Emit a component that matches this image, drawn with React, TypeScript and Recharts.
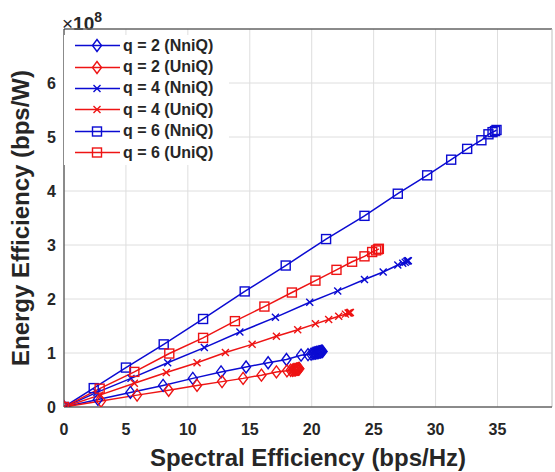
import React from 'react'
import { LineChart, Line, XAxis, YAxis, CartesianGrid, ReferenceLine, Legend } from 'recharts'

// spectral efficiency (bps/Hz) vs energy efficiency (x 1e8 bps/W)
const seQ2Nni = [0, 2.74, 5.36, 8.0, 10.4, 12.68, 14.7, 16.48, 17.96, 19.14, 19.7, 19.95, 20.1, 20.2, 20.3, 20.38, 20.45, 20.52, 20.58, 20.63, 20.68, 20.72, 20.76, 20.8, 20.84, 20.88]
const eeQ2Nni = [0, 0.14, 0.27, 0.40, 0.53, 0.65, 0.74, 0.82, 0.88, 0.96, 0.97, 0.98, 0.99, 1.0, 1.0, 1.01, 1.01, 1.01, 1.02, 1.02, 1.02, 1.02, 1.03, 1.03, 1.03, 1.03]

const seQ2Uni = [0, 2.99, 5.9, 8.45, 10.74, 12.76, 14.46, 15.94, 17.15, 18.0, 18.3, 18.45, 18.55, 18.63, 18.7, 18.76, 18.81, 18.85, 18.89, 18.92, 18.95, 18.98, 19.0]
const eeQ2Uni = [0, 0.11, 0.22, 0.31, 0.40, 0.47, 0.53, 0.59, 0.65, 0.67, 0.68, 0.68, 0.69, 0.69, 0.69, 0.70, 0.70, 0.70, 0.70, 0.70, 0.71, 0.71, 0.71]

const seQ4Nni = [0, 2.66, 5.41, 8.37, 11.33, 14.2, 17.07, 19.84, 22.1, 24.26, 25.77, 26.95, 27.35, 27.55, 27.68, 27.76, 27.8]
const eeQ4Nni = [0, 0.27, 0.53, 0.82, 1.10, 1.39, 1.66, 1.94, 2.15, 2.36, 2.50, 2.63, 2.66, 2.68, 2.70, 2.71, 2.71]

const seQ4Uni = [0, 2.88, 5.68, 8.26, 10.74, 13.03, 15.19, 17.15, 18.87, 20.3, 21.37, 22.18, 22.72, 22.94, 23.02, 23.08, 23.12]
const eeQ4Uni = [0, 0.22, 0.44, 0.64, 0.82, 1.01, 1.16, 1.31, 1.43, 1.54, 1.62, 1.68, 1.72, 1.74, 1.74, 1.75, 1.75]

const seQ6Nni = [0, 2.4, 5.0, 8.05, 11.23, 14.59, 17.9, 21.16, 24.26, 26.95, 29.32, 31.26, 32.55, 33.7, 34.27, 34.6, 34.8, 34.92]
const eeQ6Nni = [0, 0.35, 0.73, 1.16, 1.63, 2.14, 2.62, 3.11, 3.54, 3.95, 4.29, 4.58, 4.78, 4.94, 5.05, 5.09, 5.11, 5.13]

const seQ6Uni = [0, 2.88, 5.68, 8.5, 11.23, 13.8, 16.18, 18.4, 20.3, 22.0, 23.26, 24.26, 24.88, 25.2, 25.35, 25.42]
const eeQ6Uni = [0, 0.34, 0.65, 0.99, 1.28, 1.59, 1.86, 2.12, 2.34, 2.54, 2.69, 2.79, 2.87, 2.90, 2.92, 2.93]

const xTicks = [0, 5, 10, 15, 20, 25, 30, 35]
const yTicks = [0, 1, 2, 3, 4, 5, 6]
const X_MAX = 39.4
const Y_MAX = 7

const BLUE = '#0b0bd2'
const RED = '#ee1414'
const INK = '#262626'
const FONT = '"Liberation Sans", Arial, Helvetica, sans-serif'

type Shape = 'diamond' | 'cross' | 'square'

const toPoints = (xs: number[], ys: number[]) => xs.map((x, i) => ({ x, y: ys[i] }))

const series = [
  { name: 'q = 2 (NniQ)', color: BLUE, shape: 'diamond' as Shape, data: toPoints(seQ2Nni, eeQ2Nni) },
  { name: 'q = 2 (UniQ)', color: RED, shape: 'diamond' as Shape, data: toPoints(seQ2Uni, eeQ2Uni) },
  { name: 'q = 4 (NniQ)', color: BLUE, shape: 'cross' as Shape, data: toPoints(seQ4Nni, eeQ4Nni) },
  { name: 'q = 4 (UniQ)', color: RED, shape: 'cross' as Shape, data: toPoints(seQ4Uni, eeQ4Uni) },
  { name: 'q = 6 (NniQ)', color: BLUE, shape: 'square' as Shape, data: toPoints(seQ6Nni, eeQ6Nni) },
  { name: 'q = 6 (UniQ)', color: RED, shape: 'square' as Shape, data: toPoints(seQ6Uni, eeQ6Uni) },
]

const Marker = ({ cx, cy, shape, color }: { cx: number; cy: number; shape: Shape; color: string }) => {
  if (cx == null || cy == null) return null
  if (shape === 'diamond') {
    return <path d={`M${cx},${cy - 6} L${cx + 4.5},${cy} L${cx},${cy + 6} L${cx - 4.5},${cy} Z`} fill="none" stroke={color} strokeWidth={1.4} />
  }
  if (shape === 'square') {
    return <rect x={cx - 4.5} y={cy - 4.5} width={9} height={9} fill="none" stroke={color} strokeWidth={1.4} />
  }
  return (
    <path d={`M${cx - 3.5},${cy - 3.5} L${cx + 3.5},${cy + 3.5} M${cx - 3.5},${cy + 3.5} L${cx + 3.5},${cy - 3.5}`} stroke={color} strokeWidth={1.4} />
  )
}

const LegendBox = () => (
  <div style={{ background: '#fff', width: 160 }}>
    {series.map(s => (
      <div key={s.name} style={{ display: 'flex', alignItems: 'center', height: 21.4 }}>
        <svg width={58} height={21} style={{ flex: 'none' }}>
          <line x1={11} y1={10.5} x2={56} y2={10.5} stroke={s.color} strokeWidth={1.5} />
          <Marker cx={33} cy={10.5} shape={s.shape} color={s.color} />
        </svg>
        <span style={{ fontFamily: FONT, fontWeight: 'bold', fontSize: 16, color: INK, marginLeft: 1, whiteSpace: 'nowrap' }}>{s.name}</span>
      </div>
    ))}
  </div>
)

const YLabel = (props: any) => {
  const vb = props.viewBox || { x: 0, y: 29, width: 64, height: 378 }
  const x = vb.x + 29
  const y = vb.y + vb.height / 2
  return (
    <text x={x} y={y} transform={`rotate(-90 ${x} ${y})`} textAnchor="middle" fill={INK} fontFamily={FONT} fontWeight="bold" fontSize={24}>
      Energy Efficiency (bps/W)
    </text>
  )
}

const XLabel = (props: any) => {
  const vb = props.viewBox || { x: 64, y: 407, width: 488, height: 40 }
  const x = vb.x + vb.width / 2
  const y = vb.y + 59
  return (
    <text x={x} y={y} textAnchor="middle" fill={INK} fontFamily={FONT} fontWeight="bold" fontSize={24}>
      Spectral Efficiency (bps/Hz)
    </text>
  )
}

const tickStyle = { fill: INK, fontSize: 16, fontWeight: 'bold', fontFamily: FONT }

export default function App() {
  return (
    <div style={{ position: 'absolute', left: 0, top: 0, width: 555, height: 472, background: '#fff' }}>
      <div style={{ position: 'absolute', left: 62, top: 7, fontFamily: FONT, fontSize: 19, color: INK, lineHeight: '22px' }}>
        ×<b>10</b><sup style={{ fontSize: 14, position: 'relative', top: -1, fontWeight: 'bold' }}>8</sup>
      </div>
      <LineChart width={555} height={472} margin={{ top: 29, right: 3, bottom: 25, left: 0 }}>
        <CartesianGrid stroke="#dedede" strokeWidth={1} />
        <XAxis
          type="number"
          dataKey="x"
          domain={[0, X_MAX]}
          ticks={xTicks}
          allowDataOverflow
          height={40}
          tickLine={false}
          tickMargin={11}
          axisLine={{ stroke: INK }}
          tick={tickStyle}
          label={XLabel}
        />
        <YAxis
          type="number"
          domain={[0, Y_MAX]}
          ticks={yTicks}
          allowDataOverflow
          width={64}
          tickLine={false}
          tickMargin={2}
          axisLine={{ stroke: INK }}
          tick={tickStyle}
          label={YLabel}
        />
        <ReferenceLine y={Y_MAX} stroke={INK} />
        <ReferenceLine x={X_MAX} stroke="#cfcfcf" />
        {series.map(s => (
          <Line
            key={s.name}
            data={s.data}
            dataKey="y"
            name={s.name}
            stroke={s.color}
            strokeWidth={1.5}
            isAnimationActive={false}
            dot={(p: any) => <Marker key={`${s.name}-${p.index}`} cx={p.cx} cy={p.cy} shape={s.shape} color={s.color} />}
            activeDot={false}
          />
        ))}
        <Legend
          layout="vertical"
          align="center"
          verticalAlign="middle"
          wrapperStyle={{ position: 'absolute', left: 64, top: 35, width: 165, height: 130, background: '#fff' }}
          content={() => <LegendBox />}
        />
      </LineChart>
    </div>
  )
}
